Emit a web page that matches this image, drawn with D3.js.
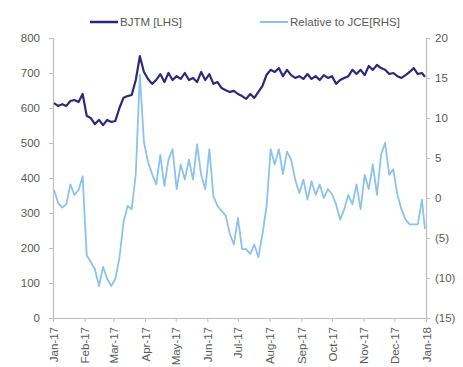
<!DOCTYPE html>
<html>
<head>
<meta charset="utf-8">
<script src="https://cdn.jsdelivr.net/npm/d3@7/dist/d3.min.js"></script>
<style>
  body { margin: 0; background: #fff; }
  svg { display: block; font-family: 'Liberation Sans', Arial, sans-serif; }
  .axis text { fill: #595959; font-size: 11.5px; }
  .axis line, .axis path { stroke: #bfbfbf; }
</style>
</head>
<body>
<svg id="chart"></svg>
<script>
/* global d3 */
// sample dates (every 4 days)
const dates = [
  '2017-01-02', '2017-01-06', '2017-01-10', '2017-01-14', '2017-01-18', '2017-01-22', '2017-01-26', '2017-01-30',
  '2017-02-03', '2017-02-07', '2017-02-11', '2017-02-15', '2017-02-19', '2017-02-23', '2017-02-27',
  '2017-03-03', '2017-03-07', '2017-03-11', '2017-03-15', '2017-03-19', '2017-03-23', '2017-03-27', '2017-03-31',
  '2017-04-04', '2017-04-08', '2017-04-12', '2017-04-16', '2017-04-20', '2017-04-24', '2017-04-28',
  '2017-05-02', '2017-05-06', '2017-05-10', '2017-05-14', '2017-05-18', '2017-05-22', '2017-05-26', '2017-05-30',
  '2017-06-03', '2017-06-07', '2017-06-11', '2017-06-15', '2017-06-19', '2017-06-23', '2017-06-27',
  '2017-07-01', '2017-07-05', '2017-07-09', '2017-07-13', '2017-07-17', '2017-07-21', '2017-07-25', '2017-07-29',
  '2017-08-02', '2017-08-06', '2017-08-10', '2017-08-14', '2017-08-18', '2017-08-22', '2017-08-26', '2017-08-30',
  '2017-09-03', '2017-09-07', '2017-09-11', '2017-09-15', '2017-09-19', '2017-09-23', '2017-09-27',
  '2017-10-01', '2017-10-05', '2017-10-09', '2017-10-13', '2017-10-17', '2017-10-21', '2017-10-25', '2017-10-29',
  '2017-11-02', '2017-11-06', '2017-11-10', '2017-11-14', '2017-11-18', '2017-11-22', '2017-11-26', '2017-11-30',
  '2017-12-04', '2017-12-08', '2017-12-12', '2017-12-16', '2017-12-20', '2017-12-24', '2017-12-28',
  '2017-12-31'
]

// BJTM price, left axis
const bjtm = [
  614, 606, 611, 606, 620, 623, 617, 640,
  578, 571, 554, 566, 551, 566, 560,
  563, 600, 629, 634, 637, 680, 748, 703,
  683, 669, 680, 697, 674, 700, 680,
  691, 683, 700, 680, 686, 674, 703, 680,
  697, 669, 674, 657, 651, 646, 649,
  640, 634, 626, 640, 629, 646, 663, 695,
  709, 703, 714, 691, 709, 694, 686, 691,
  683, 697, 683, 691, 680, 694, 686,
  691, 669, 680, 686, 691, 709, 697, 709,
  694, 720, 709, 723, 714, 709, 697, 700,
  691, 686, 694, 703, 714, 697, 700,
  689
]

// relative to JCI, right axis (%)
const relative = [
  1.0, -0.6, -1.2, -0.8, 1.7, 0.4, 1.0, 2.7,
  -7.2, -8.0, -8.9, -11.0, -8.6, -10.1, -11.0,
  -10.1, -7.5, -3.0, -1.0, -1.4, 3.0, 15.4, 7.0,
  4.5, 3.0, 1.7, 5.4, 1.5, 4.8, 6.1,
  1.1, 4.2, 2.3, 4.8, 2.3, 6.7, 2.9, 1.1,
  6.1, 0.2, -1.0, -1.6, -2.2, -4.5, -5.8,
  -2.5, -6.4, -6.4, -7.0, -5.8, -7.4, -4.5, -1.0,
  6.1, 4.2, 6.1, 3.0, 5.8, 4.8, 2.3, 0.6,
  2.3, -0.2, 2.1, 0.4, 1.7, 0.0, 1.1,
  0.5, -0.8, -2.7, -1.4, 0.4, -0.8, 1.7, -1.4,
  2.9, 1.1, 4.2, 0.4, 5.4, 6.9, 2.9, 3.6,
  0.4, -1.4, -2.7, -3.3, -3.3, -3.3, -0.2,
  -3.9
]

const leftTicks = [0, 100, 200, 300, 400, 500, 600, 700, 800]
const rightTicks = [-15, -10, -5, 0, 5, 10, 15, 20]
const legendLabels = ['BJTM [LHS]', 'Relative to JCE[RHS]']
const colors = ['#2b2a7a', '#8cc2ee']

const width = 463
const height = 367
const margin = { top: 38, bottom: 49, left: 53, right: 37 }

const parse = d3.timeParse('%Y-%m-%d')
const data = dates.map((d, i) => ({ date: parse(d), bjtm: bjtm[i], rel: relative[i] }))

const svg = d3.select('#chart')
  .attr('width', width)
  .attr('height', height)

const xScale = d3.scaleTime()
  .domain([new Date(2017, 0, 1), new Date(2018, 0, 1)])
  .range([margin.left, width - margin.right])

const yLeft = d3.scaleLinear()
  .domain([0, 800])
  .range([height - margin.bottom, margin.top])

const yRight = d3.scaleLinear()
  .domain([-15, 20])
  .range([height - margin.bottom, margin.top])

const fmtRight = d => d < 0 ? `(${-d})` : `${d}`

const xAxis = d3.axisBottom(xScale)
  .ticks(d3.timeMonth.every(1))
  .tickFormat(d3.timeFormat('%b-%y'))
  .tickSize(4)

svg.append('g')
  .attr('class', 'axis')
  .attr('transform', `translate(0, ${height - margin.bottom})`)
  .call(xAxis)
  .selectAll('text')
  .attr('transform', 'rotate(-90)')
  .attr('text-anchor', 'end')
  .attr('x', -9)
  .attr('y', 0)
  .attr('dy', '0.35em')

svg.append('g')
  .attr('class', 'axis')
  .attr('transform', `translate(${margin.left}, 0)`)
  .call(d3.axisLeft(yLeft).tickValues(leftTicks).tickSize(4).tickPadding(9))

svg.append('g')
  .attr('class', 'axis')
  .attr('transform', `translate(${width - margin.right}, 0)`)
  .call(d3.axisRight(yRight).tickValues(rightTicks).tickFormat(fmtRight).tickSize(4).tickPadding(5))

svg.selectAll('.axis path').attr('stroke-width', 1.2)

const lineLeft = d3.line()
  .x(d => xScale(d.date))
  .y(d => yLeft(d.bjtm))

const lineRight = d3.line()
  .x(d => xScale(d.date))
  .y(d => yRight(d.rel))

svg.append('path')
  .attr('d', lineLeft(data))
  .attr('fill', 'none')
  .attr('stroke', colors[0])
  .attr('stroke-width', 2.2)
  .attr('stroke-linejoin', 'round')

svg.append('path')
  .attr('d', lineRight(data))
  .attr('fill', 'none')
  .attr('stroke', colors[1])
  .attr('stroke-width', 1.8)
  .attr('stroke-linejoin', 'round')

// legend
const legendX = [90, 260]
const legend = svg.append('g')
  .selectAll('g')
  .data(legendLabels)
  .join('g')
  .attr('transform', (d, i) => `translate(${legendX[i]}, 22)`)

legend.append('line')
  .attr('x1', 0)
  .attr('x2', 28)
  .attr('stroke', (d, i) => colors[i])
  .attr('stroke-width', (d, i) => i === 0 ? 2.5 : 2)

legend.append('text')
  .attr('x', 30)
  .attr('dy', '0.35em')
  .attr('fill', '#595959')
  .attr('font-size', '11.5px')
  .text(d => d)
</script>
</body>
</html>
